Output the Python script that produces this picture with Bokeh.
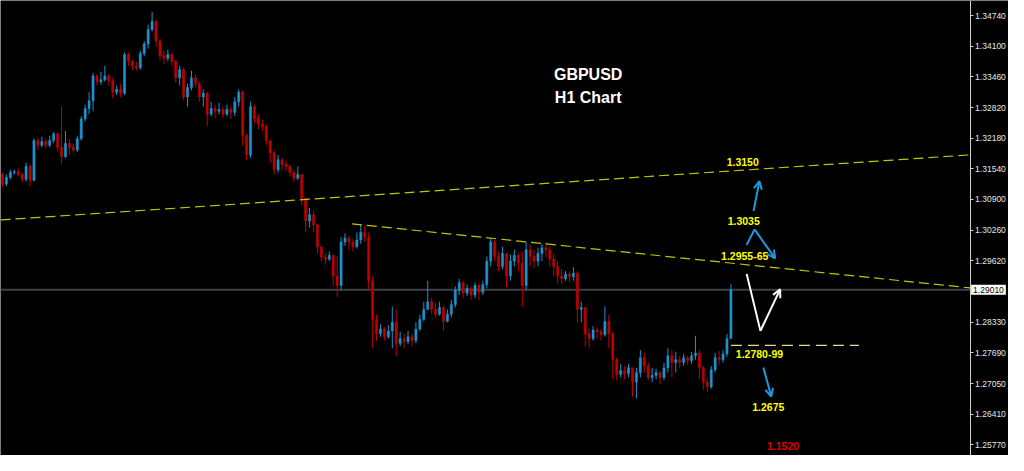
from bokeh.plotting import figure
from bokeh.models import (ColumnDataSource, Range1d, FixedTicker, PrintfTickFormatter,
                          LinearAxis, Label, Arrow, OpenHead)
from bokeh.core.properties import value
from bokeh.embed import file_html
from bokeh.resources import INLINE

# ---------------- data (GBPUSD H1) ----------------
first_open = 1.3142
closes = [
    1.3122, 1.3136, 1.3146, 1.3148, 1.3142, 1.3132, 1.3159, 1.3130, 1.3213, 1.3203,
    1.3211, 1.3203, 1.3213, 1.3227, 1.3199, 1.3179, 1.3207, 1.3199, 1.3193, 1.3217,
    1.3258, 1.3280, 1.3296, 1.3348, 1.3336, 1.3340, 1.3348, 1.3338, 1.3314, 1.3320,
    1.3312, 1.3393, 1.3379, 1.3369, 1.3365, 1.3395, 1.3415, 1.3445, 1.3462, 1.3421,
    1.3391, 1.3385, 1.3393, 1.3379, 1.3344, 1.3361, 1.3304, 1.3324, 1.3344, 1.3332,
    1.3304, 1.3312, 1.3268, 1.3280, 1.3274, 1.3278, 1.3268, 1.3278, 1.3272, 1.3294,
    1.3314, 1.3223, 1.3183, 1.3284, 1.3260, 1.3247, 1.3243, 1.3213, 1.3187, 1.3152,
    1.3173, 1.3163, 1.3159, 1.3146, 1.3134, 1.3142, 1.3092, 1.3045, 1.3058, 1.3037,
    1.2991, 1.2969, 1.2965, 1.2973, 1.2930, 1.2910, 1.3001, 1.3009, 1.3001, 1.2991,
    1.3005, 1.3021, 1.3011, 1.2920, 1.2839, 1.2809, 1.2819, 1.2803, 1.2815, 1.2833,
    1.2789, 1.2799, 1.2793, 1.2803, 1.2795, 1.2819, 1.2839, 1.2860, 1.2876, 1.2860,
    1.2850, 1.2864, 1.2835, 1.2850, 1.2870, 1.2900, 1.2916, 1.2894, 1.2904, 1.2890,
    1.2910, 1.2896, 1.2912, 1.2961, 1.3001, 1.2971, 1.2950, 1.2977, 1.2930, 1.2961,
    1.2973, 1.2957, 1.2910, 1.2985, 1.2971, 1.2961, 1.2977, 1.2989, 1.2985, 1.2965,
    1.2950, 1.2930, 1.2924, 1.2934, 1.2928, 1.2936, 1.2860, 1.2864, 1.2809, 1.2799,
    1.2817, 1.2813, 1.2807, 1.2835, 1.2809, 1.2755, 1.2724, 1.2732, 1.2726, 1.2738,
    1.2708, 1.2728, 1.2759, 1.2742, 1.2718, 1.2722, 1.2728, 1.2718, 1.2738, 1.2763,
    1.2749, 1.2755, 1.2749, 1.2759, 1.2753, 1.2763, 1.2769, 1.2738, 1.2708, 1.2698,
    1.2734, 1.2759, 1.2755, 1.2767, 1.2799, 1.2901,
]
highs = [
    1.3146, 1.3142, 1.3152, 1.3152, 1.3155, 1.3146, 1.3167, 1.3163, 1.3217, 1.3219,
    1.3221, 1.3217, 1.3223, 1.3231, 1.3229, 1.3284, 1.3233, 1.3217, 1.3207, 1.3223,
    1.3264, 1.3288, 1.3314, 1.3354, 1.3352, 1.3357, 1.3369, 1.3352, 1.3344, 1.3328,
    1.3332, 1.3397, 1.3397, 1.3381, 1.3377, 1.3401, 1.3421, 1.3455, 1.3482, 1.3466,
    1.3425, 1.3401, 1.3403, 1.3395, 1.3381, 1.3369, 1.3366, 1.3332, 1.3359, 1.3352,
    1.3336, 1.3320, 1.3314, 1.3294, 1.3288, 1.3292, 1.3284, 1.3288, 1.3284, 1.3304,
    1.3320, 1.3318, 1.3227, 1.3294, 1.3288, 1.3268, 1.3256, 1.3247, 1.3213, 1.3193,
    1.3183, 1.3177, 1.3171, 1.3163, 1.3152, 1.3159, 1.3142, 1.3092, 1.3072, 1.3066,
    1.3037, 1.2991, 1.2977, 1.2981, 1.2973, 1.2971, 1.3011, 1.3019, 1.3015, 1.3007,
    1.3021, 1.3037, 1.3035, 1.3021, 1.2930, 1.2849, 1.2829, 1.2823, 1.2827, 1.2866,
    1.2860, 1.2813, 1.2809, 1.2815, 1.2811, 1.2833, 1.2849, 1.2876, 1.2920, 1.2884,
    1.2874, 1.2876, 1.2868, 1.2860, 1.2880, 1.2908, 1.2924, 1.2920, 1.2912, 1.2908,
    1.2916, 1.2914, 1.2920, 1.2971, 1.3009, 1.3005, 1.2981, 1.2991, 1.2977, 1.2975,
    1.2985, 1.2977, 1.2981, 1.3001, 1.2995, 1.2985, 1.2989, 1.2997, 1.3001, 1.2991,
    1.2977, 1.2961, 1.2944, 1.2940, 1.2940, 1.2948, 1.2940, 1.2876, 1.2864, 1.2819,
    1.2825, 1.2823, 1.2819, 1.2866, 1.2849, 1.2813, 1.2759, 1.2746, 1.2742, 1.2746,
    1.2738, 1.2738, 1.2775, 1.2769, 1.2749, 1.2738, 1.2736, 1.2732, 1.2749, 1.2779,
    1.2775, 1.2771, 1.2763, 1.2767, 1.2763, 1.2771, 1.2805, 1.2775, 1.2742, 1.2718,
    1.2742, 1.2769, 1.2773, 1.2775, 1.2809, 1.2913,
]
lows = [
    1.3116, 1.3118, 1.3132, 1.3142, 1.3138, 1.3126, 1.3128, 1.3118, 1.3128, 1.3193,
    1.3199, 1.3197, 1.3199, 1.3207, 1.3191, 1.3163, 1.3177, 1.3183, 1.3187, 1.3189,
    1.3213, 1.3253, 1.3268, 1.3274, 1.3328, 1.3330, 1.3336, 1.3328, 1.3302, 1.3308,
    1.3304, 1.3308, 1.3369, 1.3361, 1.3359, 1.3361, 1.3389, 1.3405, 1.3441, 1.3409,
    1.3381, 1.3373, 1.3379, 1.3369, 1.3334, 1.3328, 1.3298, 1.3284, 1.3318, 1.3324,
    1.3294, 1.3284, 1.3243, 1.3264, 1.3260, 1.3268, 1.3260, 1.3264, 1.3258, 1.3264,
    1.3284, 1.3203, 1.3173, 1.3177, 1.3249, 1.3237, 1.3233, 1.3203, 1.3167, 1.3142,
    1.3146, 1.3152, 1.3150, 1.3138, 1.3126, 1.3130, 1.3078, 1.3021, 1.3031, 1.3021,
    1.2977, 1.2961, 1.2953, 1.2961, 1.2910, 1.2886, 1.2900, 1.2993, 1.2985, 1.2981,
    1.2987, 1.2997, 1.3001, 1.2900, 1.2779, 1.2795, 1.2803, 1.2795, 1.2799, 1.2779,
    1.2763, 1.2783, 1.2779, 1.2787, 1.2783, 1.2789, 1.2815, 1.2835, 1.2860, 1.2850,
    1.2843, 1.2847, 1.2815, 1.2833, 1.2843, 1.2864, 1.2890, 1.2884, 1.2888, 1.2880,
    1.2884, 1.2880, 1.2890, 1.2904, 1.2950, 1.2961, 1.2940, 1.2944, 1.2906, 1.2920,
    1.2950, 1.2940, 1.2866, 1.2900, 1.2950, 1.2946, 1.2950, 1.2961, 1.2969, 1.2950,
    1.2930, 1.2914, 1.2914, 1.2920, 1.2916, 1.2920, 1.2833, 1.2833, 1.2783, 1.2779,
    1.2795, 1.2799, 1.2795, 1.2803, 1.2779, 1.2714, 1.2712, 1.2718, 1.2714, 1.2718,
    1.2678, 1.2674, 1.2718, 1.2728, 1.2712, 1.2708, 1.2714, 1.2704, 1.2712, 1.2728,
    1.2718, 1.2728, 1.2738, 1.2742, 1.2744, 1.2746, 1.2755, 1.2714, 1.2692, 1.2688,
    1.2694, 1.2728, 1.2744, 1.2749, 1.2761, 1.2799,
]

tick_values = [1.2577, 1.2641, 1.2705, 1.2769, 1.2833, 1.2962, 1.3026, 1.3090,
               1.3154, 1.3218, 1.3282, 1.3346, 1.3410, 1.3474]
current_price = 1.2901
current_label = "1.29010"

# trend lines (bar index, price)
upper_line_x = [-0.5, 245.75]
upper_line_y = [1.3047, 1.3183]
falling_line_x = [88.75, 245.75]
falling_line_y = [1.3039, 1.2905]
support_x = [185.0, 217.5]
support_y = [1.2785, 1.2785]

# annotation texts
level_text = ["1.3150", "1.3035", "1.2955-65", "1.2780-99", "1.2675"]
level_x = [188.0, 188.25, 188.5, 192.25, 194.5]
level_y = [1.31685, 1.30454, 1.29727, 1.27668, 1.26557]
red_text = ["1.1520"]
red_x = [198.25]
red_y = [1.2575]
title_text = ["GBPUSD", "H1 Chart"]
title_x = [148.75, 148.75]
title_y = [1.3350, 1.3302]

# ---------------- figure ----------------
X_START, X_AXIS, X_END = -0.5, 245.75, 255.5   # left edge, price-scale line, right edge
opens = [first_open] + closes[:-1]
n = len(closes)
bull, bear = "#1c93d0", "#c20000"
colors = [bull if c >= o else bear for o, c in zip(opens, closes)]
tops = [max(o, c) for o, c in zip(opens, closes)]
bots = [min(o, c) for o, c in zip(opens, closes)]
tops = [t if t - b > 0.00012 else b + 0.00012 for t, b in zip(tops, bots)]
src = ColumnDataSource(dict(x=list(range(n)), high=highs, low=lows, top=tops,
                            bottom=bots, color=colors))

p = figure(width=1008, height=455,
           x_range=Range1d(X_START, X_END), y_range=Range1d(1.25547, 1.35057),
           output_backend="svg", toolbar_location=None,
           y_axis_location=None, x_axis_location=None,
           background_fill_color="#000000", border_fill_color="#000000",
           min_border_left=0, min_border_top=0, min_border_bottom=0, min_border_right=0)
p.outline_line_color = None
p.grid.visible = False

ax = LinearAxis(fixed_location=X_AXIS)
ax.ticker = FixedTicker(ticks=tick_values)
ax.formatter = PrintfTickFormatter(format="%.5f")
ax.major_label_text_color = "#e6e6e6"
ax.major_label_text_font = "Liberation Sans"
ax.major_label_text_font_size = "8.5px"
ax.major_label_standoff = 2
ax.major_tick_in = 0
ax.major_tick_out = 3
ax.minor_tick_in = 0
ax.minor_tick_out = 0
ax.major_tick_line_color = "#d0d0d0"
ax.axis_line_color = "#d0d0d0"
p.add_layout(ax, "right")

# current price line (up to the price scale)
p.line([X_START, X_AXIS], [current_price, current_price], line_color="#3e4147", line_width=2)

p.segment(x0="x", y0="low", x1="x", y1="high", source=src, line_color="color", line_width=1)
p.vbar(x="x", width=0.55, top="top", bottom="bottom", source=src,
       fill_color="color", line_color="color", line_width=0.5)

p.line(upper_line_x, upper_line_y, line_color="#c4c400", line_width=1.2, line_dash="10 5")
p.line(falling_line_x, falling_line_y, line_color="#c4c400", line_width=1.2, line_dash="10 5")
p.line(support_x, support_y, line_color="#e2dc9a", line_width=1.2, line_dash="11 6")

# arrows
blue, white = "#1f9ae0", "#ffffff"
p.add_layout(Arrow(end=OpenHead(size=8, line_color=blue, line_width=2),
                   x_start=190.75, y_start=1.30656, x_end=192.25, y_end=1.31281,
                   line_color=blue, line_width=2))
p.line([189.0, 191.0], [1.29949, 1.30272], line_color=blue, line_width=2)
p.add_layout(Arrow(end=OpenHead(size=8, line_color=blue, line_width=2),
                   x_start=191.0, y_start=1.30272, x_end=196.25, y_end=1.29666,
                   line_color=blue, line_width=2))
p.add_layout(Arrow(end=OpenHead(size=8, line_color=blue, line_width=2),
                   x_start=193.25, y_start=1.27385, x_end=195.25, y_end=1.26779,
                   line_color=blue, line_width=2))
p.line([189.0, 192.5], [1.29343, 1.28152], line_color=white, line_width=2)
p.add_layout(Arrow(end=OpenHead(size=8, line_color=white, line_width=2),
                   x_start=192.5, y_start=1.28152, x_end=197.5, y_end=1.2902,
                   line_color=white, line_width=2))

p.text(x=level_x, y=level_y, text=level_text, text_color="#ffff00",
       text_font=value("Liberation Sans"), text_font_style="bold",
       text_font_size="10.5px", text_align="center", text_baseline="middle")
p.text(x=red_x, y=red_y, text=red_text, text_color="#e00000",
       text_font=value("Liberation Sans"), text_font_style="bold",
       text_font_size="10.5px", text_align="center", text_baseline="middle")
p.text(x=title_x, y=title_y, text=title_text, text_color="#ffffff",
       text_font=value("Liberation Sans"), text_font_style="bold",
       text_font_size="16px", text_align="center", text_baseline="middle")

# current-price box on the price scale
p.add_layout(Label(x=X_AXIS, y=current_price, x_offset=1,
                   text=current_label, text_color="#000000",
                   text_font="Liberation Sans", text_font_size="8.5px",
                   text_baseline="middle", text_align="left",
                   background_fill_color="#ffffff", padding=2, level="overlay"))

open("out.html", "w").write(file_html(p, INLINE))
